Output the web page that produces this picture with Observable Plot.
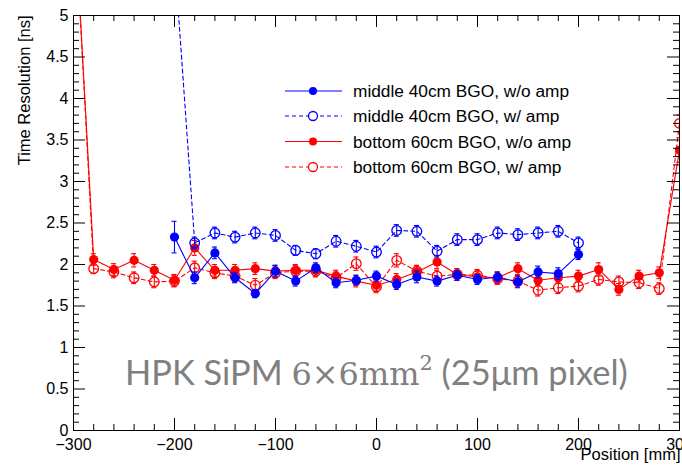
<!DOCTYPE html>
<html><head><meta charset="utf-8">
<script src="https://cdn.jsdelivr.net/npm/d3@7"></script>
<script src="https://cdn.jsdelivr.net/npm/@observablehq/plot@0.6"></script>
<style>
body{margin:0;background:#fff;overflow:hidden;}
#chart{position:relative;width:682px;height:466px;}
</style></head><body><div id="chart"></div>
<script>
// ---- data ----
const positionsMiddle = [-200,-180,-160,-140,-120,-100,-80,-60,-40,-20,0,20,40,60,80,100,120,140,160,180,200];
const positionsBottom = [-300,-280,-260,-240,-220,-200,-180,-160,-140,-120,-100,-80,-60,-40,-20,0,20,40,60,80,100,120,140,160,180,200,220,240,260,280,300];

const middleNoAmp    = [2.33,1.84,2.14,1.84,1.65,1.92,1.80,1.96,1.78,1.81,1.86,1.76,1.85,1.80,1.87,1.82,1.85,1.79,1.91,1.89,2.12];
const middleNoAmpErr = [0.19,0.07,0.07,0.06,0.05,0.07,0.06,0.06,0.06,0.06,0.06,0.06,0.07,0.06,0.06,0.06,0.06,0.07,0.07,0.07,0.06];
const middleAmp      = [5.70,2.26,2.38,2.33,2.38,2.35,2.17,2.13,2.28,2.22,2.15,2.41,2.40,2.16,2.30,2.30,2.38,2.36,2.38,2.40,2.26];
const middleAmpErr   = [0.30,0.07,0.07,0.07,0.07,0.07,0.06,0.06,0.07,0.07,0.07,0.07,0.07,0.07,0.07,0.07,0.07,0.07,0.07,0.07,0.07];

const bottomNoAmp    = [6.50,2.06,1.94,2.05,1.93,1.81,2.20,1.93,1.93,1.95,1.92,1.93,1.93,1.86,1.80,1.75,1.82,1.91,2.03,1.88,1.85,1.84,1.95,1.81,1.84,1.86,1.94,1.70,1.86,1.90,3.38];
const bottomNoAmpErr = [0.30,0.07,0.07,0.08,0.07,0.07,0.09,0.07,0.07,0.07,0.07,0.07,0.07,0.07,0.07,0.07,0.07,0.07,0.08,0.07,0.07,0.07,0.07,0.07,0.07,0.07,0.08,0.07,0.07,0.07,0.15];
const bottomAmp      = [6.50,1.95,1.91,1.84,1.79,1.80,1.96,1.90,1.86,1.75,1.90,1.92,1.92,1.84,2.01,1.73,2.05,1.92,1.86,1.88,1.87,1.83,1.80,1.69,1.72,1.74,1.82,1.79,1.78,1.71,3.70];
const bottomAmpErr   = [0.30,0.06,0.07,0.07,0.07,0.07,0.08,0.07,0.07,0.08,0.07,0.07,0.07,0.07,0.08,0.07,0.08,0.07,0.07,0.07,0.07,0.07,0.07,0.07,0.07,0.07,0.07,0.07,0.07,0.07,0.10];

const seriesNames = ["middle 40cm BGO, w/o amp","middle 40cm BGO, w/ amp","bottom 60cm BGO, w/o amp","bottom 60cm BGO, w/ amp"];
const xMajorTicks = [-300,-200,-100,0,100,200,300];
const xMinorTicks = d3.range(-300,301,20).filter(v => v % 100 !== 0);
const yMajorTicks = [0,0.5,1,1.5,2,2.5,3,3.5,4,4.5,5];
const yMinorTicks = d3.range(0,51,1).map(v => v/10).filter(v => Math.round(v*10) % 5 !== 0);
const xLabel = "Position [mm]";
const yLabel = "Time Resolution [ns]";

// ---- build tables ----
const styles = [
  {color:"#0000ff", filled:true,  dash:null},
  {color:"#0000ff", filled:false, dash:"4,3"},
  {color:"#ff0000", filled:true,  dash:null},
  {color:"#ff0000", filled:false, dash:"4,3"}
];
function table(xs, ys, es, s){ return xs.map((x,i)=>({x, y:ys[i], e:es[i], s})); }
const data = [
  table(positionsMiddle, middleNoAmp, middleNoAmpErr, 0),
  table(positionsMiddle, middleAmp, middleAmpErr, 1),
  table(positionsBottom, bottomNoAmp, bottomNoAmpErr, 2),
  table(positionsBottom, bottomAmp, bottomAmpErr, 3)
];

const W = 682, H = 466, ML = 73, MR = 3, MT = 15, MB = 36;
const fw = W-ML-MR, fh = H-MT-MB;
const fmt = d => d < 0 ? "\u2212" + (-d) : String(d);
const FONT = "'Liberation Sans', Arial, Helvetica, sans-serif";

const marks = [];
[3,2,1,0].forEach(k => {
  const st = styles[k], d = data[k];
  marks.push(Plot.line(d, {x:"x", y:"y", stroke:st.color, strokeWidth:1.1, strokeDasharray:st.dash, clip:true}));
  marks.push(Plot.ruleX(d, {x:"x", y1:r=>r.y-r.e, y2:r=>r.y+r.e, stroke:st.color, strokeWidth:1.1, clip:true}));
  marks.push(Plot.ruleY(d, {y:r=>r.y+r.e, x1:r=>r.x-2.5, x2:r=>r.x+2.5, stroke:st.color, strokeWidth:1.1, clip:true}));
  marks.push(Plot.ruleY(d, {y:r=>r.y-r.e, x1:r=>r.x-2.5, x2:r=>r.x+2.5, stroke:st.color, strokeWidth:1.1, clip:true}));
  if (st.filled) marks.push(Plot.dot(d, {x:"x", y:"y", r:4.6, fill:st.color, stroke:"none", clip:true}));
  else marks.push(Plot.dot(d, {x:"x", y:"y", r:4.8, fill:"white", fillOpacity:0, stroke:st.color, strokeWidth:1.3, clip:true}));
});

const chart = Plot.plot({
  width: W, height: H,
  marginLeft: ML, marginRight: MR, marginTop: MT, marginBottom: MB,
  style: {fontFamily: FONT, fontSize: "16px", color:"#000", background:"#fff", overflow:"visible"},
  x: {domain: [-300,300]},
  y: {domain: [0,5]},
  marks: [
    ...marks,
    Plot.tickY(yMajorTicks, {y:d=>d, insetRight: fw-12, stroke:"#000"}),
    Plot.tickY(yMinorTicks, {y:d=>d, insetRight: fw-6, stroke:"#000"}),
    Plot.tickY(yMajorTicks, {y:d=>d, insetLeft: fw-12, stroke:"#000"}),
    Plot.tickY(yMinorTicks, {y:d=>d, insetLeft: fw-6, stroke:"#000"}),
    Plot.tickX(xMajorTicks, {x:d=>d, insetTop: fh-12, stroke:"#000"}),
    Plot.tickX(xMinorTicks, {x:d=>d, insetTop: fh-6, stroke:"#000"}),
    Plot.tickX(xMajorTicks, {x:d=>d, insetBottom: fh-12, stroke:"#000"}),
    Plot.tickX(xMinorTicks, {x:d=>d, insetBottom: fh-6, stroke:"#000"}),
    Plot.axisY({ticks: yMajorTicks, tickSize: 0, tickPadding: 5, tickFormat: d => String(d), label: null, fontSize: 16}),
    Plot.axisX({ticks: xMajorTicks, tickSize: 0, tickPadding: 8, tickFormat: fmt, label: null, fontSize: 16}),
    Plot.text([yLabel], {frameAnchor:"top-left", rotate:-90, textAnchor:"end", dx:-55, fontSize:16.5}),
    Plot.text([xLabel], {frameAnchor:"bottom-right", textAnchor:"end", dx:1, dy:29, fontSize:16.5}),
    Plot.frame({stroke:"#000", strokeWidth:1})
  ]
});
document.getElementById("chart").appendChild(chart);

// ---- legend ----
const svg = d3.select(chart);
const leg = svg.append("g").attr("font-family",FONT).attr("font-size",17.3).attr("text-anchor","start");
const rowsY = [91, 116, 141.5, 167];
seriesNames.forEach((name,i) => {
  const st = styles[i], y = rowsY[i];
  leg.append("line").attr("x1",285).attr("x2",342).attr("y1",y).attr("y2",y)
    .attr("stroke",st.color).attr("stroke-width",1.1).attr("stroke-dasharray",st.dash);
  const c = leg.append("circle").attr("cx",313).attr("cy",y);
  if (st.filled) c.attr("r",4).attr("fill",st.color);
  else c.attr("r",4.5).attr("fill","white").attr("stroke",st.color).attr("stroke-width",1.3);
  leg.append("text").attr("x",353).attr("y",y).attr("dy","0.35em").attr("fill","#000").text(name);
});

// ---- annotation (fitted to the reference span, x 125 → 628) ----
const ann = svg.append("text").attr("x",125).attr("y",385).attr("fill","#808080").attr("text-anchor","start")
  .attr("font-family","Lato, 'Open Sans', sans-serif");
const parts = [
  {t:"HPK SiPM ", fam:null, size:28, dy:0},
  {t:"6\u00d76mm", fam:"'DejaVu Serif', 'Liberation Serif', serif", size:26, dy:0},
  {t:"2", fam:"'DejaVu Serif', 'Liberation Serif', serif", size:17, dy:-12},
  {t:" (25\u03bcm pixel)", fam:null, size:28, dy:12}
];
const spans = parts.map(p => {
  const s = ann.append("tspan").attr("font-size", p.size).attr("dy", p.dy).text(p.t);
  if (p.fam) s.attr("font-family", p.fam);
  return s;
});
const w0 = ann.node().getComputedTextLength();
const k = Math.min(1.3, 503 / w0);
spans.forEach((s,i) => s.attr("font-size", parts[i].size * k).attr("dy", parts[i].dy * k));
</script></body></html>
